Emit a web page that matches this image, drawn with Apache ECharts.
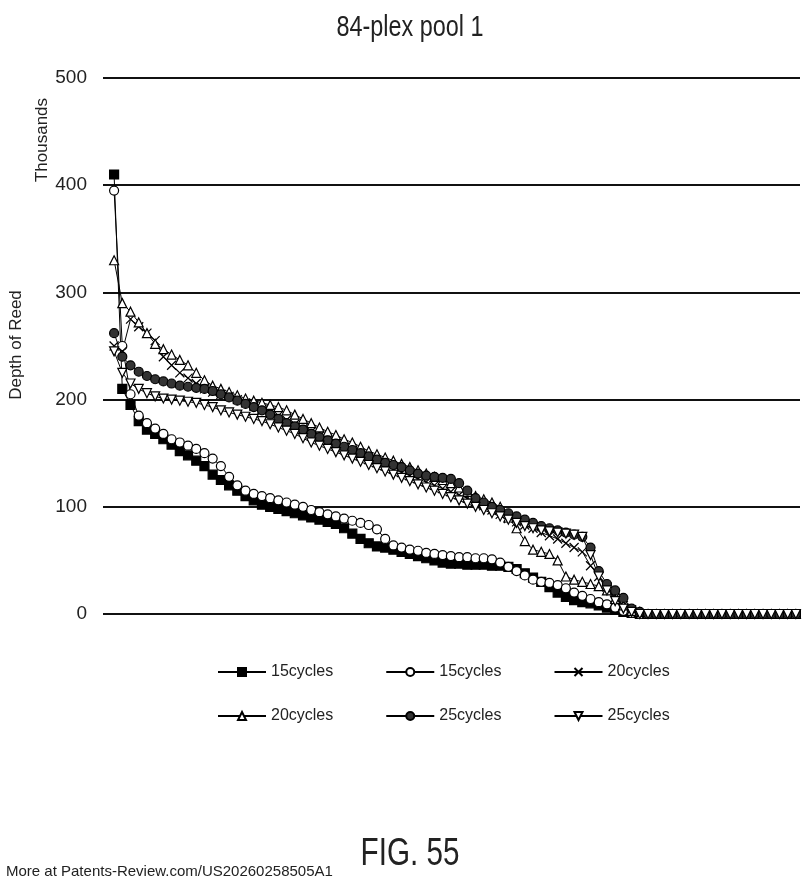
<!DOCTYPE html>
<html><head><meta charset="utf-8">
<script src="https://cdn.jsdelivr.net/npm/echarts@6/dist/echarts.min.js"></script>
<style>html,body{margin:0;background:#fff}#main{width:807px;height:888px}</style>
</head><body><div id="main"></div>
<script>
const yTicks = [0, 100, 200, 300, 400, 500]
const TAIL = [0,0,0,0,0,0,0,0,0,0,0,0,0,0,0,0,0,0,0,0,0,0,0,0,0,0,0,0,0,0]
const N = 84

const sq15 = [410,210,195,180,172,168,163,158,152,148,143,138,130,125,120,115,110,106,102,100,98,96,94,92,90,88,86,84,80,75,70,66,63,62,60,58,56,54,52,50,48,47,47,46,46,46,45,45,44,42,38,34,30,25,20,16,13,11,10,8,6,4,2,1,0]
const circ15 = [395,250,205,185,178,173,168,163,160,157,154,150,145,138,128,120,115,112,110,108,106,104,102,100,97,95,93,91,89,87,85,83,79,70,64,62,60,59,57,56,55,54,53,53,52,52,51,48,44,40,36,32,30,29,27,24,20,17,14,11,9,6,3,1,0]
const x20 = [250,245,275,268,262,255,240,232,225,220,215,210,207,205,203,200,197,194,191,188,185,181,177,173,170,166,162,158,155,151,148,144,141,138,135,132,129,126,123,120,117,114,111,108,105,101,97,93,89,86,83,80,76,73,70,66,62,58,45,35,25,15,8,4,0]
const tri20 = [330,290,282,272,262,252,247,242,237,232,225,218,213,210,207,204,201,199,197,195,193,190,186,182,178,174,170,167,163,160,156,152,149,146,143,140,137,134,131,128,125,122,118,114,110,107,104,100,90,80,68,60,58,56,50,35,32,30,28,26,22,14,8,3,2,0]
const dot25 = [262,240,232,226,222,219,217,215,213,212,211,210,208,205,202,199,196,193,190,186,182,178,175,172,168,165,162,159,156,153,150,147,144,141,139,137,134,131,129,128,127,126,122,115,108,104,100,97,94,91,88,85,82,80,78,76,74,72,62,40,28,22,15,5,2,0]
const down25 = [245,225,215,210,206,203,201,200,199,198,197,195,193,190,188,186,184,182,180,177,174,171,168,164,160,157,154,151,148,145,142,139,136,133,130,127,124,121,118,115,112,109,106,103,100,97,94,91,88,85,82,80,78,77,76,75,74,72,55,35,22,12,5,2,0]

const full = a => a.concat(TAIL.slice(0, N - a.length)).map((v, i) => [i, v])
const X_PATH = 'path://M0,0L10,10M10,0L0,10'
const FONT_N = 'Liberation Sans, Arial'

const defs = [
    {id: 's1', label: '15cycles', data: sq15, symbol: 'rect', fill: '#000'},
    {id: 's2', label: '15cycles', data: circ15, symbol: 'circle', fill: '#fff'},
    {id: 's3', label: '20cycles', data: x20, symbol: X_PATH, fill: '#000'},
    {id: 's4', label: '20cycles', data: tri20, symbol: 'triangle', fill: '#fff'},
    {id: 's5', label: '25cycles', data: dot25, symbol: 'circle', fill: '#333'},
    {id: 's6', label: '25cycles', data: down25, symbol: 'triangle', fill: '#fff', rotate: 180},
]
const labelOf = Object.fromEntries(defs.map(d => [d.id, d.label]))

const series = defs.map(d => ({
    name: d.id,
    type: 'line',
    data: full(d.data),
    symbol: d.symbol,
    symbolSize: 9,
    symbolRotate: d.rotate || 0,
    showAllSymbol: true,
    lineStyle: {color: '#000', width: 1},
    itemStyle: {color: d.fill, borderColor: '#000', borderWidth: 1.2},
}))

const chart = echarts.init(document.getElementById('main'))
const legendBase = {
    itemWidth: 48, itemHeight: 10, itemGap: 52,
    textStyle: {fontFamily: FONT_N, fontSize: 16, color: '#222'},
    formatter: n => labelOf[n],
    left: 212,
}
const condensed = (text, x, y, size, extra) => Object.assign({
    type: 'text', x, y, scaleX: 0.78,
    style: {text, font: size + 'px ' + FONT_N, fill: '#222', textAlign: 'center', textVerticalAlign: 'middle'}
}, extra || {})

chart.setOption({
    animation: false,
    legend: [
        Object.assign({}, legendBase, {top: 659, data: ['s1', 's2', 's3']}),
        Object.assign({}, legendBase, {top: 703, data: ['s4', 's5', 's6']}),
    ],
    grid: {left: 103, right: 7, top: 78, bottom: 274},
    xAxis: {
        type: 'value', min: -1.35, max: 83.5,
        axisLine: {show: false}, axisTick: {show: false}, axisLabel: {show: false}, splitLine: {show: false}
    },
    yAxis: {
        type: 'value', min: yTicks[0], max: yTicks[yTicks.length - 1], interval: 100,
        axisLine: {show: false}, axisTick: {show: false},
        axisLabel: {fontFamily: FONT_N, fontSize: 19, color: '#222', margin: 16},
        splitLine: {lineStyle: {color: '#111', width: 2}}
    },
    graphic: [
        condensed('84-plex pool 1', 410, 28, 30),
        {type: 'text', rotation: Math.PI / 2, x: 42, y: 140, style: {text: 'Thousands', font: '17px ' + FONT_N, fill: '#222', textAlign: 'center', textVerticalAlign: 'middle'}},
        {type: 'text', rotation: Math.PI / 2, x: 16, y: 345, style: {text: 'Depth of Reed', font: '17px ' + FONT_N, fill: '#222', textAlign: 'center', textVerticalAlign: 'middle'}},
        condensed('FIG. 55', 410, 855, 38),
        {type: 'text', x: 6, y: 864, style: {text: 'More at Patents-Review.com/US20260258505A1', font: '15px ' + FONT_N, fill: '#222'}},
    ],
    series
})
</script></body></html>
